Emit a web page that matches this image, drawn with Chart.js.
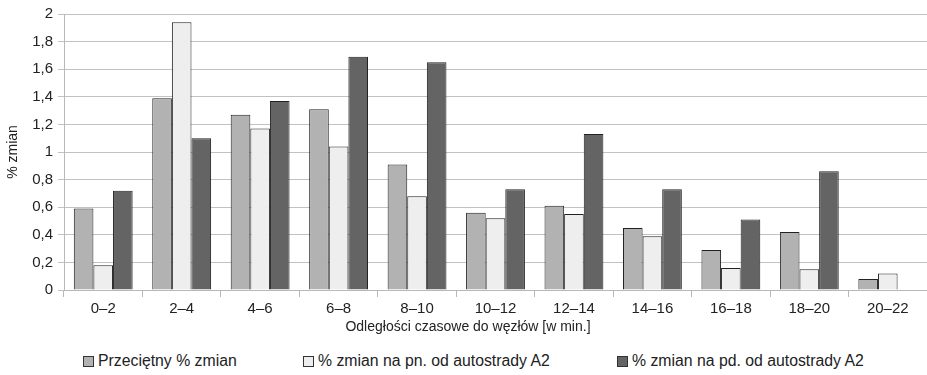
<!DOCTYPE html>
<html>
<head>
<meta charset="utf-8">
<script src="https://cdn.jsdelivr.net/npm/chart.js@4.4.1/dist/chart.umd.min.js"></script>
<style>
  body { margin: 0; background: #fff; }
  #wrap { position: relative; width: 927px; height: 375px; }
  #chart { position: absolute; left: 0; top: 0; }
  #xtitle {
    position: absolute; top: 318px; left: 468px; transform: translateX(-50%);
    font: 14px "Liberation Sans", Arial, sans-serif; color: #222; white-space: nowrap;
  }
  .item {
    position: absolute; top: 352px; display: flex; align-items: center;
    font: 15.8px "Liberation Sans", Arial, sans-serif; color: #222; white-space: nowrap;
  }
  .box { width: 9px; height: 9px; border: 1px solid #333; margin-right: 4px; }
</style>
</head>
<body>
<div id="wrap">
  <canvas id="chart" width="927" height="345"></canvas>
  <div id="xtitle">Odległości czasowe do węzłów [w min.]</div>
  <div id="legend"></div>
</div>
<script>
// przedziały czasu dojazdu do węzła (min)
const categories = ["0–2", "2–4", "4–6", "6–8", "8–10", "10–12", "12–14", "14–16", "16–18", "18–20", "20–22"];

const seriesNames = [
  "Przeciętny % zmian",
  "% zmian na pn. od autostrady A2",
  "% zmian na pd. od autostrady A2"
];

const avgChange   = [0.59, 1.39, 1.27, 1.31, 0.91, 0.56, 0.61, 0.45, 0.29, 0.42, 0.08];
const northChange = [0.18, 1.94, 1.17, 1.04, 0.68, 0.52, 0.55, 0.39, 0.16, 0.15, 0.12];
const southChange = [0.72, 1.10, 1.37, 1.69, 1.65, 0.73, 1.13, 0.73, 0.51, 0.86, null];

const yTicks = [0, 0.2, 0.4, 0.6, 0.8, 1, 1.2, 1.4, 1.6, 1.8, 2];

const fills = ["#b2b2b2", "#eeeeee", "#646464"];
const legendLeft = [83, 303, 617];

const font = { family: "'Liberation Sans', Arial, sans-serif", size: 15 };

const ds = [avgChange, northChange, southChange].map((vals, i) => ({
  label: seriesNames[i],
  data: vals,
  backgroundColor: fills[i],
  borderColor: "#222",
  borderWidth: 1,
  categoryPercentage: 0.75,
  barPercentage: 1.0
}));

new Chart(document.getElementById("chart"), {
  type: "bar",
  data: { labels: categories, datasets: ds },
  options: {
    responsive: false,
    animation: false,
    layout: { padding: { top: 8, right: 0, left: 0, bottom: 0 } },
    plugins: { legend: { display: false }, tooltip: { enabled: false } },
    scales: {
      x: {
        grid: { drawOnChartArea: false, color: "#b8b8b8", tickLength: 7, offset: true },
        border: { color: "#b8b8b8" },
        ticks: { font: font, color: "#222", padding: 3, maxRotation: 0 },
        afterFit: s => { s.height = 55; }
      },
      y: {
        min: 0,
        max: 2,
        afterBuildTicks: s => { s.ticks = yTicks.map(v => ({ value: v })); },
        grid: { color: "#c2c2c2", tickLength: 6 },
        border: { color: "#b8b8b8" },
        ticks: {
          font: font, color: "#222", padding: 5,
          callback: v => String(v).replace(".", ",")
        },
        title: {
          display: true, text: "% zmian", color: "#222",
          font: { family: font.family, size: 14 }, padding: 5
        },
        afterFit: s => { s.width = 64; }
      }
    }
  }
});

// legenda pod wykresem
const legend = document.getElementById("legend");
seriesNames.forEach((name, i) => {
  const item = document.createElement("div");
  item.className = "item";
  item.style.left = legendLeft[i] + "px";
  const box = document.createElement("span");
  box.className = "box";
  box.style.background = fills[i];
  item.appendChild(box);
  item.appendChild(document.createTextNode(name));
  legend.appendChild(item);
});
</script>
</body>
</html>
